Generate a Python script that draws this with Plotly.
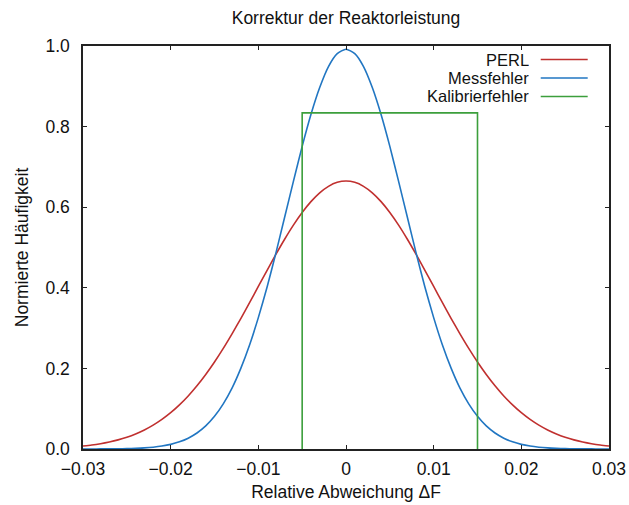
import plotly.graph_objects as go

# x grid (relative deviation)
x_vals = [-0.030, -0.029, -0.028, -0.027, -0.026, -0.025, -0.024, -0.023, -0.022, -0.021,
          -0.020, -0.019, -0.018, -0.017, -0.016, -0.015, -0.014, -0.013, -0.012, -0.011,
          -0.010, -0.009, -0.008, -0.007, -0.006, -0.005, -0.004, -0.003, -0.002, -0.001,
          0.000, 0.001, 0.002, 0.003, 0.004, 0.005, 0.006, 0.007, 0.008, 0.009,
          0.010, 0.011, 0.012, 0.013, 0.014, 0.015, 0.016, 0.017, 0.018, 0.019,
          0.020, 0.021, 0.022, 0.023, 0.024, 0.025, 0.026, 0.027, 0.028, 0.029, 0.030]

perl_half = [0.665, 0.6617, 0.6518, 0.6357, 0.6139, 0.5869, 0.5555, 0.5205, 0.4829, 0.4435,
             0.4033, 0.3631, 0.3237, 0.2857, 0.2496, 0.2159, 0.1849, 0.1568, 0.1316, 0.1094,
             0.0900, 0.0733, 0.0591, 0.0472, 0.0373, 0.0292, 0.0226, 0.0174, 0.0132, 0.0099, 0.0074]
mess_half = [0.992, 0.981, 0.949, 0.897, 0.830, 0.751, 0.664, 0.575, 0.486, 0.402,
             0.326, 0.258, 0.200, 0.151, 0.112, 0.081, 0.0573, 0.0397, 0.0269, 0.0178,
             0.0115, 0.0073, 0.0045, 0.0027, 0.0016, 0.0009, 0.0005, 0.0003, 0.0002, 0.0001, 0.0000]

perl_vals = perl_half[:0:-1] + perl_half
mess_vals = mess_half[:0:-1] + mess_half

kal_x = [-0.005, -0.005, 0.015, 0.015]
kal_y = [0.0, 0.834, 0.834, 0.0]

series_names = ["PERL", "Messfehler", "Kalibrierfehler"]
colors = ["#c0302f", "#2176c2", "#3c9f3c"]

x_ticks = [-0.03, -0.02, -0.01, 0.0, 0.01, 0.02, 0.03]
x_ticktext = ["\u22120.03", "\u22120.02", "\u22120.01", "0", "0.01", "0.02", "0.03"]
y_ticks = [0.0, 0.2, 0.4, 0.6, 0.8, 1.0]
y_ticktext = ["0.0", "0.2", "0.4", "0.6", "0.8", "1.0"]

FONT = "Liberation Sans, Arial, Helvetica, sans-serif"
FS = 17.5
FS_LEG = 16.5

fig = go.Figure()
fig.add_trace(go.Scatter(x=x_vals, y=perl_vals, mode="lines", name=series_names[0],
                         line=dict(color=colors[0], width=1.6, shape="spline", smoothing=0.6)))
fig.add_trace(go.Scatter(x=x_vals, y=mess_vals, mode="lines", name=series_names[1],
                         line=dict(color=colors[1], width=1.6, shape="spline", smoothing=0.6)))
fig.add_trace(go.Scatter(x=kal_x, y=kal_y, mode="lines", name=series_names[2],
                         line=dict(color=colors[2], width=1.6)))

axis_common = dict(showgrid=False, zeroline=False, showline=True, linecolor="#222222",
                   linewidth=1.5, mirror="ticks", ticks="inside", ticklen=4, tickwidth=1.2,
                   tickcolor="#222222", automargin=False,
                   tickfont=dict(family=FONT, size=FS, color="#111111"))

fig.update_xaxes(range=[-0.03, 0.03], tickvals=x_ticks, ticktext=x_ticktext,
                 ticklabelstandoff=3,
                 title=dict(text="Relative Abweichung \u0394F", font=dict(family=FONT, size=FS, color="#111111"),
                            standoff=8),
                 **axis_common)
fig.update_yaxes(range=[0, 1], tickvals=y_ticks, ticktext=y_ticktext,
                 ticklabelstandoff=8,
                 title=dict(text="Normierte H\u00e4ufigkeit", font=dict(family=FONT, size=FS, color="#111111"),
                            standoff=12),
                 **axis_common)

# gnuplot-style legend: text right-aligned, sample line to its right
leg_y = [0.9665, 0.9206, 0.8747]
for name, col, yy in zip(series_names, colors, leg_y):
    fig.add_annotation(x=0.849, y=yy, xref="paper", yref="paper", text=name, showarrow=False,
                       xanchor="right", yanchor="middle", height=16, borderpad=0,
                       font=dict(family=FONT, size=FS_LEG, color="#111111"))
    fig.add_shape(type="line", xref="paper", yref="paper", x0=0.8702, x1=0.9595, y0=yy, y1=yy,
                  line=dict(color=col, width=1.6))

fig.update_layout(
    width=629, height=505,
    margin=dict(l=83, r=20, t=46, b=56, autoexpand=False),
    paper_bgcolor="white", plot_bgcolor="white",
    showlegend=False,
    title=dict(text="Korrektur der Reaktorleistung", x=0.5, xref="paper", xanchor="center",
               y=1 - 18 / 505, yanchor="middle", font=dict(family=FONT, size=FS, color="#111111")),
)

fig.write_html("out.html")
